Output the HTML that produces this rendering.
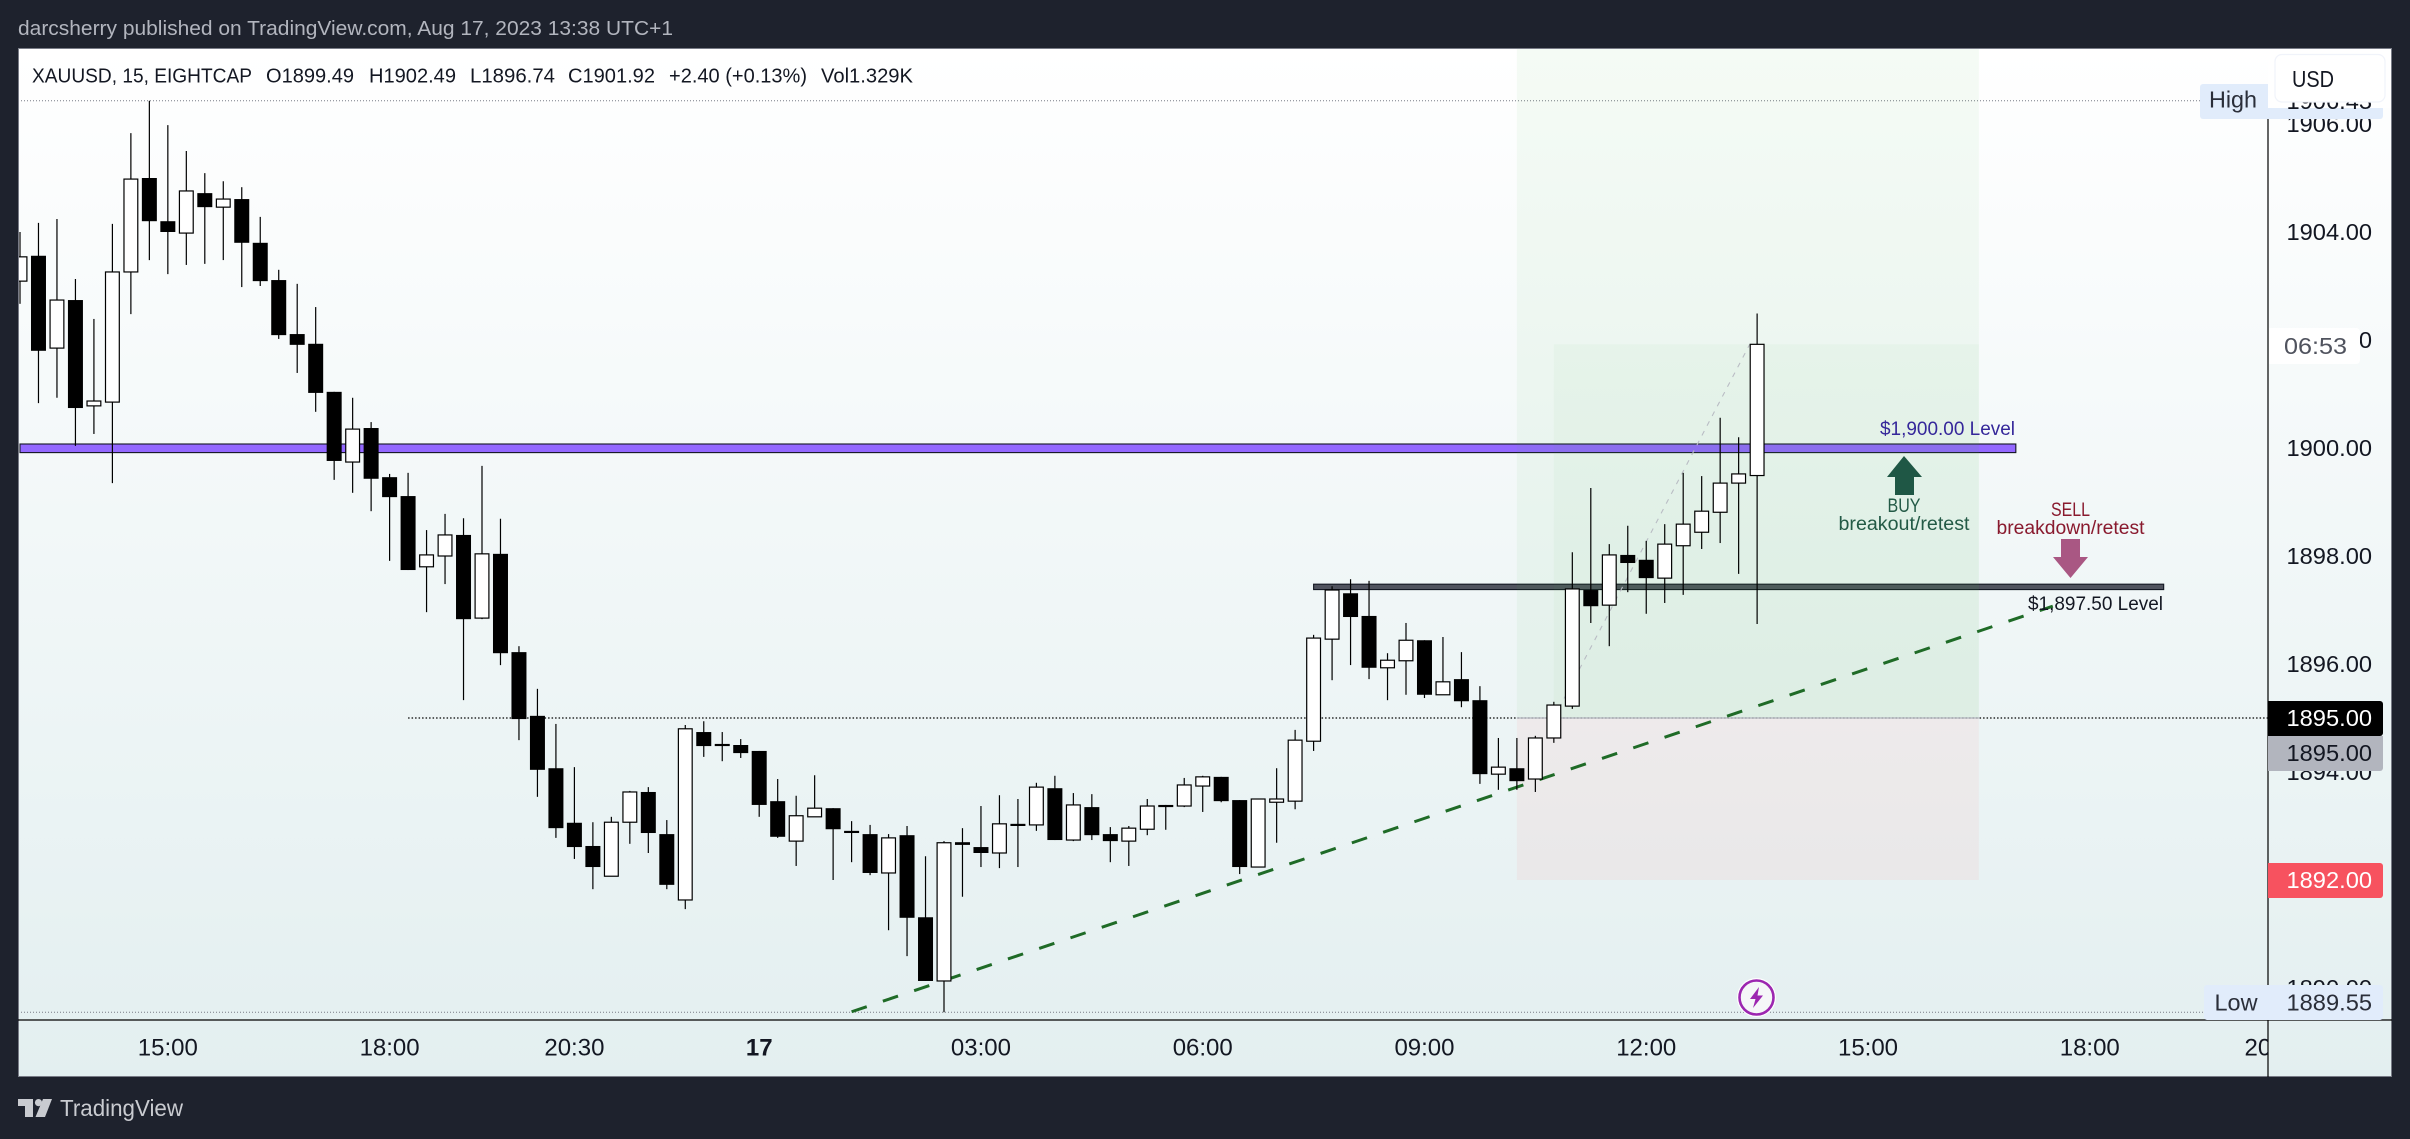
<!DOCTYPE html>
<html lang="en">
<head>
<meta charset="utf-8">
<title>XAUUSD 15 chart</title>
<style>
html,body{margin:0;padding:0;background:#1e222d;width:2410px;height:1139px;overflow:hidden}
svg{display:block}
text{font-family:"Liberation Sans",sans-serif}
</style>
</head>
<body>
<svg id="chart" xmlns="http://www.w3.org/2000/svg" width="2410" height="1139" viewBox="0 0 2410 1139">
  <defs>
    <linearGradient id="paneGrad" x1="0" y1="0" x2="0" y2="1">
      <stop offset="0" stop-color="#ffffff"/>
      <stop offset="1" stop-color="#e3eff0"/>
    </linearGradient>
    <clipPath id="paneClip"><rect x="19" y="49" width="2249" height="971"/></clipPath>
    <clipPath id="timeClip"><rect x="19" y="1021" width="2249" height="56"/></clipPath>
  </defs>

  <rect x="0" y="0" width="2410" height="1139" fill="#1e222d"/>
  <text x="18" y="35" font-size="20" fill="#b2b5be" textLength="655" lengthAdjust="spacingAndGlyphs">darcsherry published on TradingView.com, Aug 17, 2023 13:38 UTC+1</text>

  <rect x="18.5" y="48.5" width="2373" height="1028" fill="url(#paneGrad)" stroke="#787b86" stroke-width="1"/>

  <g id="priceAxisLayer"></g>
  <g id="paneBack" clip-path="url(#paneClip)"></g>
  <g id="candleLayer" clip-path="url(#paneClip)"></g>

  <line x1="2268" y1="118" x2="2268" y2="1077" stroke="#000" stroke-width="1.2"/>
  <line x1="18" y1="1020" x2="2392" y2="1020" stroke="#000" stroke-width="1.2"/>
  <g id="timeAxisLayer" clip-path="url(#timeClip)"></g>

  <!-- legend -->
  <g font-size="20" fill="#131722">
    <text x="32" y="82.5" textLength="220" lengthAdjust="spacingAndGlyphs">XAUUSD, 15, EIGHTCAP</text>
    <text x="266" y="82.5" textLength="88" lengthAdjust="spacingAndGlyphs">O1899.49</text>
    <text x="369" y="82.5" textLength="87" lengthAdjust="spacingAndGlyphs">H1902.49</text>
    <text x="470" y="82.5" textLength="85" lengthAdjust="spacingAndGlyphs">L1896.74</text>
    <text x="568" y="82.5" textLength="87" lengthAdjust="spacingAndGlyphs">C1901.92</text>
    <text x="669" y="82.5" textLength="138" lengthAdjust="spacingAndGlyphs">+2.40 (+0.13%)</text>
    <text x="821" y="82.5" textLength="92" lengthAdjust="spacingAndGlyphs">Vol1.329K</text>
  </g>

  <!-- annotations -->
  <g font-size="19">
    <text x="1880" y="435" fill="#35279a" textLength="135" lengthAdjust="spacingAndGlyphs">$1,900.00 Level</text>
    <polygon points="1904,456 1922,477 1914,477 1914,495 1895,495 1895,477 1887,477" fill="#1f5745"/>
    <text x="1904" y="512" fill="#235a46" text-anchor="middle" textLength="33" lengthAdjust="spacingAndGlyphs">BUY</text>
    <text x="1904" y="530" fill="#235a46" text-anchor="middle" textLength="131" lengthAdjust="spacingAndGlyphs">breakout/retest</text>
    <text x="2070.5" y="516" fill="#891a2e" text-anchor="middle" textLength="39" lengthAdjust="spacingAndGlyphs">SELL</text>
    <text x="2070.5" y="534" fill="#891a2e" text-anchor="middle" textLength="148" lengthAdjust="spacingAndGlyphs">breakdown/retest</text>
    <polygon points="2061,539 2080,539 2080,557 2088,557 2070.5,578 2053,557 2061,557" fill="#a95783"/>
    <text x="2028" y="610" fill="#131722" textLength="135" lengthAdjust="spacingAndGlyphs">$1,897.50 Level</text>
  </g>

  <!-- lightning marker -->
  <g>
    <circle cx="1756.5" cy="997.5" r="19.5" fill="#fff"/>
    <circle cx="1756.5" cy="997.5" r="17" fill="#f5f7f8" stroke="#9c27b0" stroke-width="2.6"/>
    <polygon points="1759,987 1750,999 1755.5,999 1753,1008 1763,995.5 1757.5,995.5" fill="#9c27b0"/>
  </g>

  <!-- price labels -->
  <g font-size="23">
    <path d="M2268 701H2380a3 3 0 0 1 3 3V733a3 3 0 0 1-3 3H2268Z" fill="#000"/>
    <text x="2286.5" y="726" fill="#fff" textLength="85.5" lengthAdjust="spacingAndGlyphs">1895.00</text>
    <path d="M2268 736H2383V768a3 3 0 0 1-3 3H2268Z" fill="#b2b5be"/>
    <text x="2286.5" y="761" fill="#131722" textLength="85.5" lengthAdjust="spacingAndGlyphs">1895.00</text>
    <path d="M2268 863H2380a3 3 0 0 1 3 3V895a3 3 0 0 1-3 3H2268Z" fill="#f7525f"/>
    <text x="2286.5" y="888" fill="#fff" textLength="85.5" lengthAdjust="spacingAndGlyphs">1892.00</text>

    <path d="M2269 328H2356a4 4 0 0 1 4 4V360a4 4 0 0 1-4 4H2269Z" fill="#fff"/>
    <text x="2284" y="354" fill="#50535e" textLength="63" lengthAdjust="spacingAndGlyphs">06:53</text>

    <rect x="2200" y="84" width="183" height="35" rx="3" fill="#e1ecfb"/>
    <rect x="2268" y="49" width="123" height="59" fill="#fff"/>
    <text x="2209" y="107.5" fill="#2a2e39" textLength="48" lengthAdjust="spacingAndGlyphs">High</text>
    <text x="2286.5" y="109" fill="#131722" textLength="85.5" lengthAdjust="spacingAndGlyphs">1906.43</text>

    <rect x="2204" y="985" width="179" height="35" rx="3" fill="#e1ecfb"/>
    <text x="2214.5" y="1010.5" fill="#2a2e39" textLength="43" lengthAdjust="spacingAndGlyphs">Low</text>
    <text x="2286.5" y="1010.5" fill="#2a2e39" textLength="85.5" lengthAdjust="spacingAndGlyphs">1889.55</text>
  </g>

  <!-- currency button -->
  <g>
    <rect x="2275" y="54.5" width="110" height="47.5" rx="7" fill="#fff" stroke="#f0f3fa" stroke-width="1.2"/>
    <text x="2292" y="87" font-size="23" fill="#131722" textLength="42" lengthAdjust="spacingAndGlyphs">USD</text>
  </g>

  <!-- logo -->
  <g>
    <path d="M18 1099H33V1117H25V1106H18Z" fill="#c9cbd0"/>
    <circle cx="38.5" cy="1102.6" r="3.6" fill="#c9cbd0"/>
    <polygon points="43,1099 52,1099 45,1117 35.5,1117" fill="#c9cbd0"/>
    <text x="60" y="1116" font-size="23" fill="#c9cbd0" textLength="123" lengthAdjust="spacingAndGlyphs">TradingView</text>
  </g>
</svg>

<script>
// The first visible bar has index 0; one bar is 15 minutes.
const opens = [
1903.09,1903.56,1901.85,1902.74,1900.78,1900.85,1903.26,1905.00,
1904.20,1903.98,1904.72,1904.46,1904.61,1903.80,1903.11,1902.11,1901.93,1901.04,
1899.74,1900.37,1899.46,1899.11,1897.80,1898.00,1898.39,1896.85,1898.04,1896.22,
1895.04,1894.07,1893.06,1892.63,1892.07,1893.07,1893.63,1892.85,1891.63,1894.74,
1894.52,1894.50,1894.39,1893.46,1892.72,1893.17,1893.33,1892.91,1892.85,1892.13,
1892.83,1891.31,1890.13,1892.70,1892.61,1892.50,1893.04,1893.02,1893.70,1892.74,
1893.35,1892.85,1892.72,1892.94,1893.39,1893.37,1893.74,1893.91,1893.48,1892.24,
1893.44,1893.46,1894.57,1896.46,1897.31,1896.89,1895.93,1896.06,1896.44,1895.43,
1895.72,1895.33,1893.96,1894.07,1893.87,1894.63,1895.22,1897.37,1897.09,1898.02,
1897.93,1897.59,1898.19,1898.44,1898.81,1899.35,1899.49];
const highs = [
1904.00,1904.17,1904.24,1903.13,1902.39,1904.15,1905.83,1906.43,
1905.98,1905.50,1905.09,1904.94,1904.83,1904.28,1903.30,1903.04,1902.61,1901.04,
1900.93,1900.48,1899.52,1899.54,1898.48,1898.78,1898.70,1899.67,1898.69,1896.33,
1895.54,1894.89,1894.09,1893.07,1893.17,1893.65,1893.72,1893.11,1894.87,1894.94,
1894.74,1894.61,1894.39,1893.87,1893.56,1893.94,1893.33,1893.09,1893.02,1892.85,
1893.00,1892.44,1892.72,1892.96,1893.37,1893.57,1893.50,1893.80,1893.93,1893.61,
1893.59,1892.98,1893.00,1893.50,1893.39,1893.89,1893.93,1893.91,1893.48,1893.50,
1894.07,1894.78,1896.54,1897.44,1897.57,1897.54,1896.20,1896.76,1896.44,1896.50,
1896.22,1895.59,1894.63,1894.63,1894.67,1895.30,1898.07,1899.26,1898.22,1898.56,
1898.28,1898.59,1899.54,1899.48,1900.56,1900.20,1902.49];
const lows = [
1902.67,1900.83,1900.93,1900.04,1900.26,1899.35,1902.48,1903.48,
1903.22,1903.39,1903.41,1903.48,1902.98,1903.00,1902.02,1901.39,1900.67,1899.41,
1899.17,1898.83,1897.91,1897.74,1896.96,1897.48,1895.33,1896.83,1895.98,1894.59,
1893.54,1892.78,1892.39,1891.83,1892.07,1892.67,1892.50,1891.83,1891.46,1894.28,
1894.20,1894.26,1893.17,1892.78,1892.26,1893.17,1892.00,1892.33,1892.09,1891.07,
1890.59,1890.13,1889.55,1891.69,1892.24,1892.22,1892.24,1892.91,1892.74,1892.72,
1892.74,1892.33,1892.26,1892.83,1892.93,1893.35,1893.26,1893.44,1892.11,1892.24,
1892.69,1893.31,1894.39,1895.70,1895.98,1895.72,1895.33,1895.43,1895.37,1895.43,
1895.20,1893.78,1893.67,1893.67,1893.63,1894.54,1895.17,1896.76,1896.33,1897.33,
1896.93,1897.13,1897.28,1898.13,1898.24,1897.67,1896.74];
const closes = [
1903.54,1901.80,1902.74,1900.74,1900.87,1903.26,1904.98,1904.20,
1904.00,1904.76,1904.46,1904.61,1903.80,1903.09,1902.09,1901.91,1901.02,1899.76,
1900.35,1899.43,1899.09,1897.74,1898.02,1898.39,1896.83,1898.04,1896.20,1894.98,
1894.04,1892.96,1892.61,1892.24,1893.07,1893.63,1892.87,1891.91,1894.80,1894.48,
1894.48,1894.35,1893.39,1892.80,1893.19,1893.33,1892.94,1892.87,1892.13,1892.78,
1891.30,1890.13,1892.69,1892.65,1892.50,1893.04,1893.00,1893.72,1892.74,1893.39,
1892.83,1892.72,1892.96,1893.37,1893.35,1893.76,1893.91,1893.46,1892.24,1893.50,
1893.50,1894.59,1896.48,1897.37,1896.87,1895.93,1896.07,1896.44,1895.43,1895.67,
1895.31,1893.96,1894.09,1893.83,1894.63,1895.24,1897.39,1897.07,1898.02,1897.87,
1897.59,1898.22,1898.59,1898.83,1899.35,1899.52,1901.92];

const priceTicks = [1906, 1904, 1902, 1900, 1898, 1896, 1894, 1892, 1890];
const timeTickLabels = ["15:00", "18:00", "20:30", "17", "03:00", "06:00", "09:00", "12:00", "15:00", "18:00", "20:30"];
const timeTickBars = [8, 20, 30, 40, 52, 64, 76, 88, 100, 112, 122];

const sessionHigh = 1906.43;
const sessionLow = 1889.55;
const lastLevel = 1895;
const upperLevel = 1900;
const lowerLevel = 1897.43;
const positionEntry = 1895;
const positionStop = 1892;
const positionTarget = 1907.41;
const positionCurrent = 1901.92;
const trendStartBar = 45;
const trendStartPrice = 1889.56;
const trendEndBar = 110;
const trendEndPrice = 1897.07;

function xScale(bar) { return 20 + 18.48 * bar; }
function yScale(price) { return 448 - (price - 1900) * 54; }

const SVGNS = "http://www.w3.org/2000/svg";
function mk(parent, tag, attrs) {
  const el = document.createElementNS(SVGNS, tag);
  for (const k in attrs) el.setAttribute(k, attrs[k]);
  parent.appendChild(el);
  return el;
}

const priceAxis = document.getElementById("priceAxisLayer");
priceTicks.forEach(function (p) {
  const t = mk(priceAxis, "text", { x: 2286.5, y: yScale(p) + 8, "font-size": 23, fill: "#131722", textLength: 85.5, lengthAdjust: "spacingAndGlyphs" });
  
  
  t.textContent = p.toFixed(2);
});

const timeAxis = document.getElementById("timeAxisLayer");
timeTickLabels.forEach(function (label, i) {
  const t = mk(timeAxis, "text", { x: xScale(timeTickBars[i]), y: 1055.5, "font-size": 24, fill: "#131722", "text-anchor": "middle", "font-weight": label === "17" ? "bold" : "normal" });
  
  
  t.textContent = label;
});

const back = document.getElementById("paneBack");

const highLine = mk(back, "line", { x1: 18, x2: 2200, y1: yScale(sessionHigh), y2: yScale(sessionHigh), stroke: "#787b86", "stroke-width": 1, "stroke-dasharray": "1 2" });



const lowLine = mk(back, "line", { x1: 18, x2: 2204, y1: yScale(sessionLow), y2: yScale(sessionLow), stroke: "#787b86", "stroke-width": 1, "stroke-dasharray": "1 2" });



const lastLine = mk(back, "line", { x1: xScale(21), x2: 2268, y1: yScale(lastLevel), y2: yScale(lastLevel), stroke: "#000", "stroke-width": 1.2, "stroke-dasharray": "1.5 2" });



const purple = mk(back, "rect", { x: xScale(0), y: yScale(upperLevel) - 4, width: xScale(108) - xScale(0), height: 8.6, fill: "#9368ff", stroke: "#131722", "stroke-width": 1.1 });



const grey = mk(back, "rect", { x: xScale(70), y: yScale(lowerLevel) - 2.6, width: xScale(116) - xScale(70), height: 5.4, fill: "#50535e", stroke: "#131722", "stroke-width": 1.1 });



const target = mk(back, "rect", { x: xScale(81), y: yScale(positionTarget), width: xScale(106) - xScale(81), height: yScale(positionEntry) - yScale(positionTarget), fill: "#4caf50", "fill-opacity": 0.055 });



const progress = mk(back, "rect", { x: xScale(83), y: yScale(positionCurrent), width: xScale(106) - xScale(83), height: yScale(positionEntry) - yScale(positionCurrent), fill: "#4caf50", "fill-opacity": 0.04 });



const stop = mk(back, "rect", { x: xScale(81), y: yScale(positionEntry), width: xScale(106) - xScale(81), height: yScale(positionStop) - yScale(positionEntry), fill: "#ff4050", "fill-opacity": 0.055 });



const entry = mk(back, "line", { x1: xScale(81), x2: xScale(106), y1: yScale(positionEntry), y2: yScale(positionEntry), stroke: "#b2b5be", "stroke-width": 1.2 });



const pnl = mk(back, "line", { x1: xScale(83), y1: yScale(positionEntry), x2: xScale(93.6), y2: yScale(positionCurrent), stroke: "#b9bcc4", "stroke-width": 1.1, "stroke-dasharray": "5 6" });



const trend = mk(back, "line", { x1: xScale(trendStartBar), y1: yScale(trendStartPrice), x2: xScale(trendEndBar), y2: yScale(trendEndPrice), stroke: "#1f6b27", "stroke-width": 3, "stroke-dasharray": "16 17" });



const candleLayer = document.getElementById("candleLayer");
opens.forEach(function (o, i) {
  const c = closes[i];
  const cx = xScale(i);
  const wick = mk(candleLayer, "line", { x1: cx, x2: cx, y1: yScale(highs[i]), y2: yScale(lows[i]), stroke: "#000", "stroke-width": 1.2 });
  
  
  const top = yScale(Math.max(o, c));
  const bot = yScale(Math.min(o, c));
  const bull = c >= o;
  const body = mk(candleLayer, "rect", bull
    ? { x: cx - 6.9, y: top, width: 13.8, height: Math.max(bot - top, 1), fill: "#fff", stroke: "#000", "stroke-width": 1.2 }
    : { x: cx - 7.5, y: top, width: 15, height: Math.max(bot - top, 1.5), fill: "#000" });
  
  
});
</script>
</body>
</html>
